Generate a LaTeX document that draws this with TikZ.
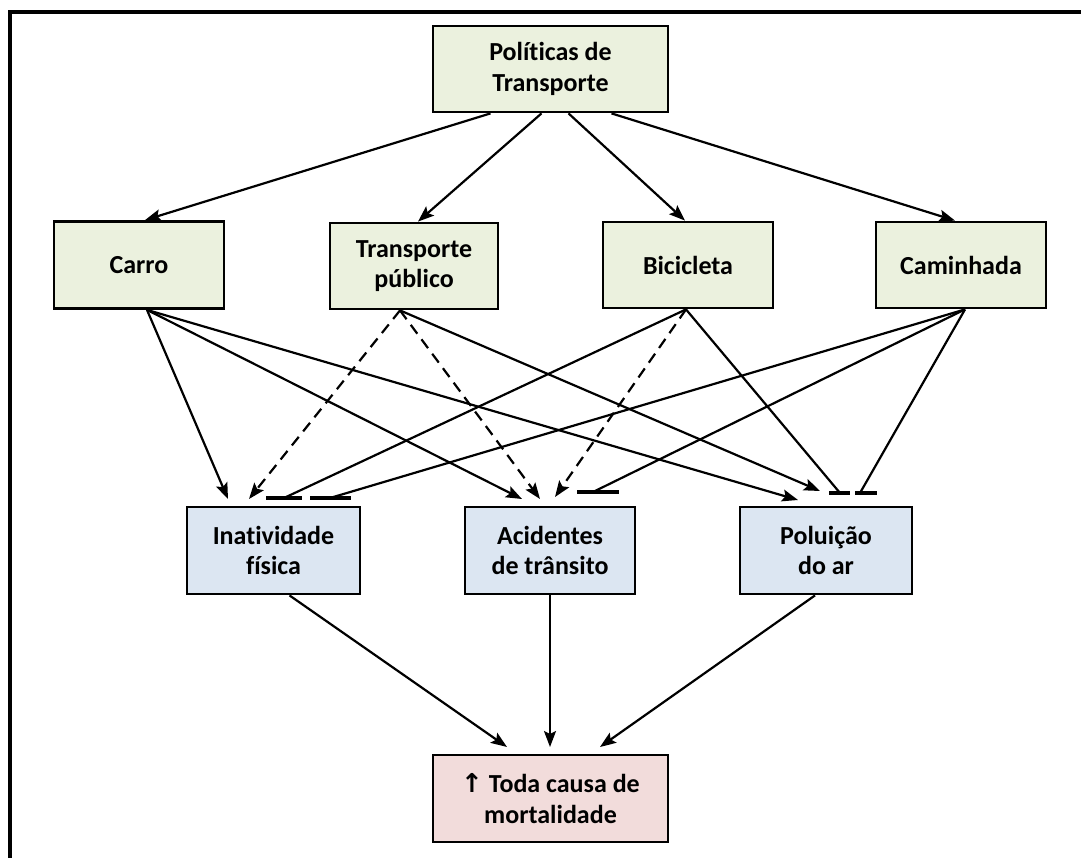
\documentclass[tikz,border=0pt]{standalone}
\usepackage{fontspec}
\setmainfont[Ligatures=NoCommon]{Carlito}
\newfontfamily\symfont{DejaVu Sans}
\usetikzlibrary{arrows.meta}
\definecolor{topfill}{HTML}{EBF1DE}
\definecolor{midfill}{HTML}{DCE6F2}
\definecolor{botfill}{HTML}{F2DCDB}
\tikzset{
  box/.style={draw=black, line width=2.8pt, align=center, inner sep=0pt,
    font=\fontsize{26}{30.5}\selectfont\bfseries},
  topbox/.style={box, fill=topfill},
  midbox/.style={box, fill=midfill},
  botbox/.style={box, fill=botfill},
  conn/.style={line width=2.2pt, -{Stealth[length=16pt,width=12pt,inset=3pt]}},
  dconn/.style={conn, dash pattern=on 11pt off 7pt},
  inh/.style={line width=2.2pt},
  barline/.style={line width=4.5pt},
}
\begin{document}
\begin{tikzpicture}[x=1pt,y=-1pt]
\useasboundingbox (0,0) rectangle (1081,858);
\fill[white] (0,0) rectangle (1081,858);
% frame (right and bottom off-canvas)
\draw[line width=4pt] (10,870) -- (10,12) -- (1090,12);

% nodes
\node[topbox, minimum width=235pt, minimum height=86pt] (pol) at (550.5,69) {Políticas de\\Transporte};
\node[topbox, minimum width=170pt, minimum height=87pt] (carro) at (139,265) {Carro};
\node[topbox, minimum width=168pt, minimum height=86pt] (tp) at (414,266) {Transporte\\público};
\node[topbox, minimum width=170pt, minimum height=86pt] (bic) at (688,265) {Bicicleta};
\node[topbox, minimum width=170pt, minimum height=86pt] (cam) at (961,265) {Caminhada};
\node[midbox, minimum width=173pt, minimum height=87pt] (inat) at (273.5,550.5) {Inatividade\\física};
\node[midbox, minimum width=170pt, minimum height=87pt] (acid) at (550,550.5) {Acidentes\\de trânsito};
\node[midbox, minimum width=172pt, minimum height=87pt] (polu) at (826,550.5) {Poluição\\do ar};
\node[botbox, minimum width=235pt, minimum height=87pt] (toda) at (550.5,798.5) {{\symfont\bfseries ↑} Toda causa de\\mortalidade};

% arrow ends above the middle row
\coordinate (iC) at (228,499);
\coordinate (iT) at (249,499);
\coordinate (iB) at (284,498);
\coordinate (iK) at (330,498);
\coordinate (aC) at (522,499);
\coordinate (aT) at (540,499);
\coordinate (aB) at (555,497);
\coordinate (aK) at (593,492);
\coordinate (pC) at (798,500);
\coordinate (pT) at (820,491);
\coordinate (pB) at (840,493);
\coordinate (pK) at (860,493);
\coordinate (tI) at (507,747);
\coordinate (tA) at (550,747);
\coordinate (tP) at (600,747);

% policies to modes
\draw[conn] ([xshift=-60pt]pol.south) -- (carro.north -| 145,0);
\draw[conn] ([xshift=-9pt]pol.south) -- (tp.north -| 418,0);
\draw[conn] ([xshift=18pt]pol.south) -- (bic.north -| 685,0);
\draw[conn] ([xshift=61pt]pol.south) -- (cam.north -| 955,0);

% carro
\draw[conn] ([xshift=8pt]carro.south) -- (iC);
\draw[conn] ([xshift=8pt]carro.south) -- (aC);
\draw[conn] ([xshift=8pt]carro.south) -- (pC);
% transporte publico
\draw[dconn] ([xshift=-14pt]tp.south) -- (iT);
\draw[dconn] ([xshift=-14pt]tp.south) -- (aT);
\draw[conn] ([xshift=-14pt]tp.south) -- (pT);
% bicicleta
\draw[inh] ([xshift=-2pt]bic.south) -- (iB);
\draw[dconn] ([xshift=-2pt]bic.south) -- (aB);
\draw[inh] ([xshift=-2pt]bic.south) -- (pB);
% caminhada
\draw[inh] ([xshift=4pt]cam.south) -- (iK);
\draw[inh] ([xshift=4pt]cam.south) -- (aK);
\draw[inh] ([xshift=4pt]cam.south) -- (pK);

% inhibition bars
\draw[barline] (266,498) -- (302,498);
\draw[barline] (310,498) -- (351,498);
\draw[barline] (577,492) -- (619,492);
\draw[barline] (829,493) -- (850,493);
\draw[barline] (855,493) -- (877,493);

% middle to outcome
\draw[conn] ([xshift=16pt]inat.south) -- (tI);
\draw[conn] (acid.south) -- (tA);
\draw[conn] ([xshift=-11pt]polu.south) -- (tP);
\end{tikzpicture}
\end{document}
